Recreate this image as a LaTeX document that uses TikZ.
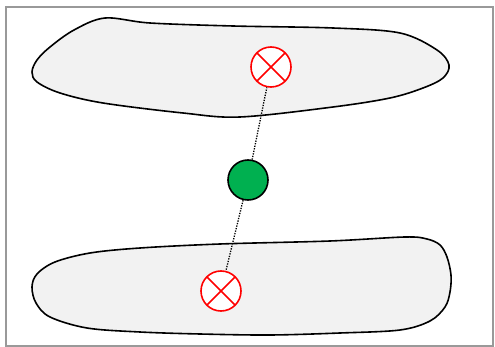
\documentclass[tikz,border=0pt]{standalone}
\begin{document}
\begin{tikzpicture}[
    x=1pt, y=-1pt,
    line width=1.6pt,
    blob/.style={draw=black, fill=gray!10},
    meter/.style={circle, draw=red, fill=white, minimum size=40pt, inner sep=0pt,
      path picture={\draw[red] (path picture bounding box.north west) -- (path picture bounding box.south east)
        (path picture bounding box.north east) -- (path picture bounding box.south west);}},
    source/.style={circle, draw=black, fill=green!70!black, minimum size=40pt, inner sep=0pt}
  ]
    \definecolor{green}{HTML}{00B050}

    % 1. Rahmen
    \useasboundingbox (0,0) rectangle (495,347);
    \draw[gray!80, line width=1.2pt] (6,7) rectangle (493,346);

    % 2. Flaechen
    \draw[blob] plot[smooth cycle, tension=0.55] coordinates {
      (32,72) (37,60) (50,47) (74,30) (105,18) (150,23) (233,26) (333,28)
      (400,33) (437,50) (449,65) (443,78) (423,88) (390,98) (333,107) (240,117)
      (183,113) (103,103) (60,93) (37,82)};
    \draw[blob] plot[smooth cycle, tension=0.55] coordinates {
      (32,287) (37,274) (55,262) (90,253) (140,248) (220,244) (330,241) (405,237)
      (427,239) (440,245) (447,257) (451,275) (450,292) (445,307) (430,321) (400,330)
      (340,333) (270,335) (200,334) (140,332) (87,328) (50,317) (36,303)};

    % 3. Knoten
    \node[meter] (xtop) at (271,67) {};
    \node[meter] (xbot) at (221,291) {};
    \node[source, fill=green] (ctr) at (248,180) {};

    % 4. Linien
    \draw[line width=1.3pt, dash pattern=on 1.3pt off 1.3pt] (ctr) -- (xtop);
    \draw[line width=1.3pt, dash pattern=on 1.3pt off 1.3pt] (ctr) -- (xbot);

  \end{tikzpicture}
\end{document}
